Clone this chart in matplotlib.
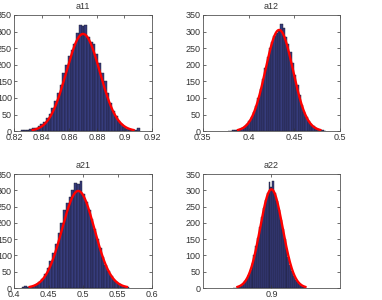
import numpy as np
import matplotlib
matplotlib.use("Agg")
import matplotlib.pyplot as plt

plt.rcParams["font.family"] = ["Liberation Sans", "DejaVu Sans"]

# histogram counts per panel, bins given by start + width
titles = ["a11", "a12", "a21", "a22"]

a11_start, a11_width = 0.825, 0.002
a11_counts = [3, 2, 4, 6, 8, 10, 14, 20, 27, 40, 52, 70, 90, 115, 140, 175, 200, 225,
              245, 262, 295, 320, 318, 320, 285, 268, 262, 232, 205, 175, 150, 115, 85,
              62, 45, 30, 20, 12, 7, 4, 3, 2, 8]

a12_start, a12_width = 0.37725, 0.0025
a12_counts = [1, 1, 2, 2, 4, 6, 10, 14, 20, 30, 42, 58, 76, 100, 126, 158, 190, 222,
              250, 268, 288, 296, 302, 322, 310, 285, 262, 238, 205, 170, 140, 108, 80,
              58, 42, 30, 20, 14, 8, 5, 3, 2, 1]

a21_start, a21_width = 0.411, 0.004
a21_counts = [3, 5, 2, 4, 7, 12, 18, 28, 42, 60, 82, 108, 135, 168, 200, 240, 262, 278,
              300, 322, 318, 330, 290, 265, 240, 212, 180, 150, 122, 96, 72, 52, 38, 26,
              17, 11, 7, 4, 2]

a22_start, a22_width = 0.87745, 0.0011
a22_counts = [1, 1, 2, 4, 7, 12, 20, 28, 40, 56, 76, 100, 128, 155, 186, 218, 246, 270,
              292, 325, 310, 328, 292, 268, 240, 210, 180, 150, 120, 94, 72, 52, 38, 26,
              17, 11, 7, 4, 2]

# fitted normal: mean, std, peak height
fit_mu = [0.870, 0.4335, 0.493, 0.900]
fit_sd = [0.0122, 0.0150, 0.0235, 0.0066]
fit_peak = [293, 305, 298, 303]

xlims = [(0.82, 0.92), (0.35, 0.5), (0.4, 0.6), (0.86, 0.94)]
xticks = [[0.82, 0.84, 0.86, 0.88, 0.9, 0.92],
          [0.35, 0.4, 0.45, 0.5],
          [0.4, 0.45, 0.5, 0.55, 0.6],
          [0.9]]
xticklabels = [["0.82", "0.84", "0.86", "0.88", "0.9", "0.92"],
               ["0.35", "0.4", "0.45", "0.5"],
               ["0.4", "0.45", "0.5", "0.55", "0.6"],
               ["0.9"]]
yticks = [0, 50, 100, 150, 200, 250, 300, 350]

hists = [(a11_start, a11_width, a11_counts), (a12_start, a12_width, a12_counts),
         (a21_start, a21_width, a21_counts), (a22_start, a22_width, a22_counts)]

fig = plt.figure(figsize=(3.82, 3.0), dpi=100)
rects = [[0.037, 0.563, 0.361, 0.387], [0.531, 0.563, 0.359, 0.387],
         [0.037, 0.040, 0.361, 0.380], [0.531, 0.040, 0.359, 0.380]]

for i in range(4):
    ax = fig.add_axes(rects[i])
    start, width, counts = hists[i]
    edges = start + width * np.arange(len(counts) + 1)
    ax.bar(edges[:-1], counts, width=width, align="edge",
           color="#363c7c", edgecolor="#1a1a2e", linewidth=0.3)
    xs = np.linspace(fit_mu[i] - 3 * fit_sd[i], fit_mu[i] + 3 * fit_sd[i], 200)
    ax.plot(xs, fit_peak[i] * np.exp(-0.5 * ((xs - fit_mu[i]) / fit_sd[i]) ** 2),
            color="red", lw=1.7)
    ax.set_xlim(*xlims[i]); ax.set_ylim(0, 350)
    ax.set_xticks(xticks[i]); ax.set_xticklabels(xticklabels[i])
    ax.set_yticks(yticks)
    ax.tick_params(direction="in", length=2, width=0.5, labelsize=6.5,
                   colors="#333333", top=True, right=True, pad=1.5)
    for s in ax.spines.values():
        s.set_linewidth(0.6); s.set_color("#555555")
    ax.set_title(titles[i], fontsize=6.5, color="#333333", pad=4)

fig.savefig("out.png", dpi=100)
